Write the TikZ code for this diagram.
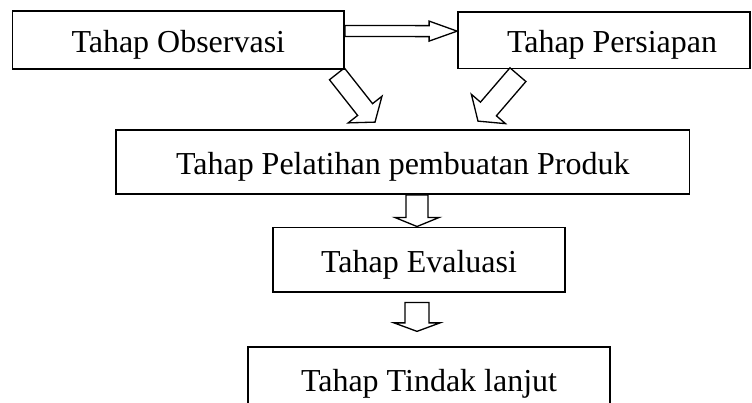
\documentclass[tikz,border=0pt]{standalone}
\usepackage{fontspec}
\setmainfont{Liberation Serif}
\usetikzlibrary{calc}

\tikzset{
    tahap/.style={draw, line width=1pt, font=\fontsize{18.2}{22}\selectfont, text height=14.4pt, text depth=0pt},
    blok/.style n args={3}{draw, line width=.75pt, to path={
        ($(\tikztostart)!#1!90:(\tikztotarget)$)
        -- ($(\tikztotarget)!#3!(\tikztostart)!#1!90:(\tikztotarget)$)
        -- ($(\tikztotarget)!#3!(\tikztostart)!#2!90:(\tikztotarget)$)
        -- (\tikztotarget)
        -- ($(\tikztotarget)!#3!(\tikztostart)!#2!-90:(\tikztotarget)$)
        -- ($(\tikztotarget)!#3!(\tikztostart)!#1!-90:(\tikztotarget)$)
        -- ($(\tikztostart)!#1!-90:(\tikztotarget)$) -- cycle}},
}

\begin{document}
\begin{tikzpicture}
\useasboundingbox (0,0) rectangle (15.04,-8.06);

%les étapes

\node[tahap, minimum width=6.63cm, minimum height=1.16cm] (obs) at (3.566,-0.80) {Tahap Observasi};
\node[tahap, minimum width=5.84cm, minimum height=1.13cm] (pers) at (12.08,-0.803) {\hspace*{.32cm}Tahap Persiapan};
\node[tahap, minimum width=11.47cm, minimum height=1.28cm] (pel) at (8.055,-3.24) {Tahap Pelatihan pembuatan Produk};
\node[tahap, minimum width=5.84cm, minimum height=1.29cm] (eval) at (8.38,-5.193) {Tahap Evaluasi};
\node[tahap, minimum width=7.24cm, minimum height=1.28cm] (tl) at (8.58,-7.58) {Tahap Tindak lanjut};

%les flèches

\draw[blok={.11cm}{.2cm}{.56cm}] ([yshift=.18cm]obs.east) to ([yshift=.18cm]pers.west);
\draw[blok={.19cm}{.43cm}{.32cm}] ([xshift=-.16cm, yshift=-.08cm]obs.south east) to ([xshift=-.555cm, yshift=.14cm]pel.north);
\draw[blok={.21cm}{.45cm}{.32cm}] ([xshift=1.216cm, yshift=-.108cm]pers.south west) to ([xshift=1.505cm, yshift=.16cm]pel.north);
\draw[blok={.22cm}{.44cm}{.18cm}] ([xshift=.285cm]pel.south) to ([xshift=-.04cm]eval.north);
\draw[blok={.24cm}{.46cm}{.17cm}] ([xshift=-.04cm, yshift=-.195cm]eval.south) to ([xshift=-.24cm, yshift=.295cm]tl.north);
\end{tikzpicture}
\end{document}
